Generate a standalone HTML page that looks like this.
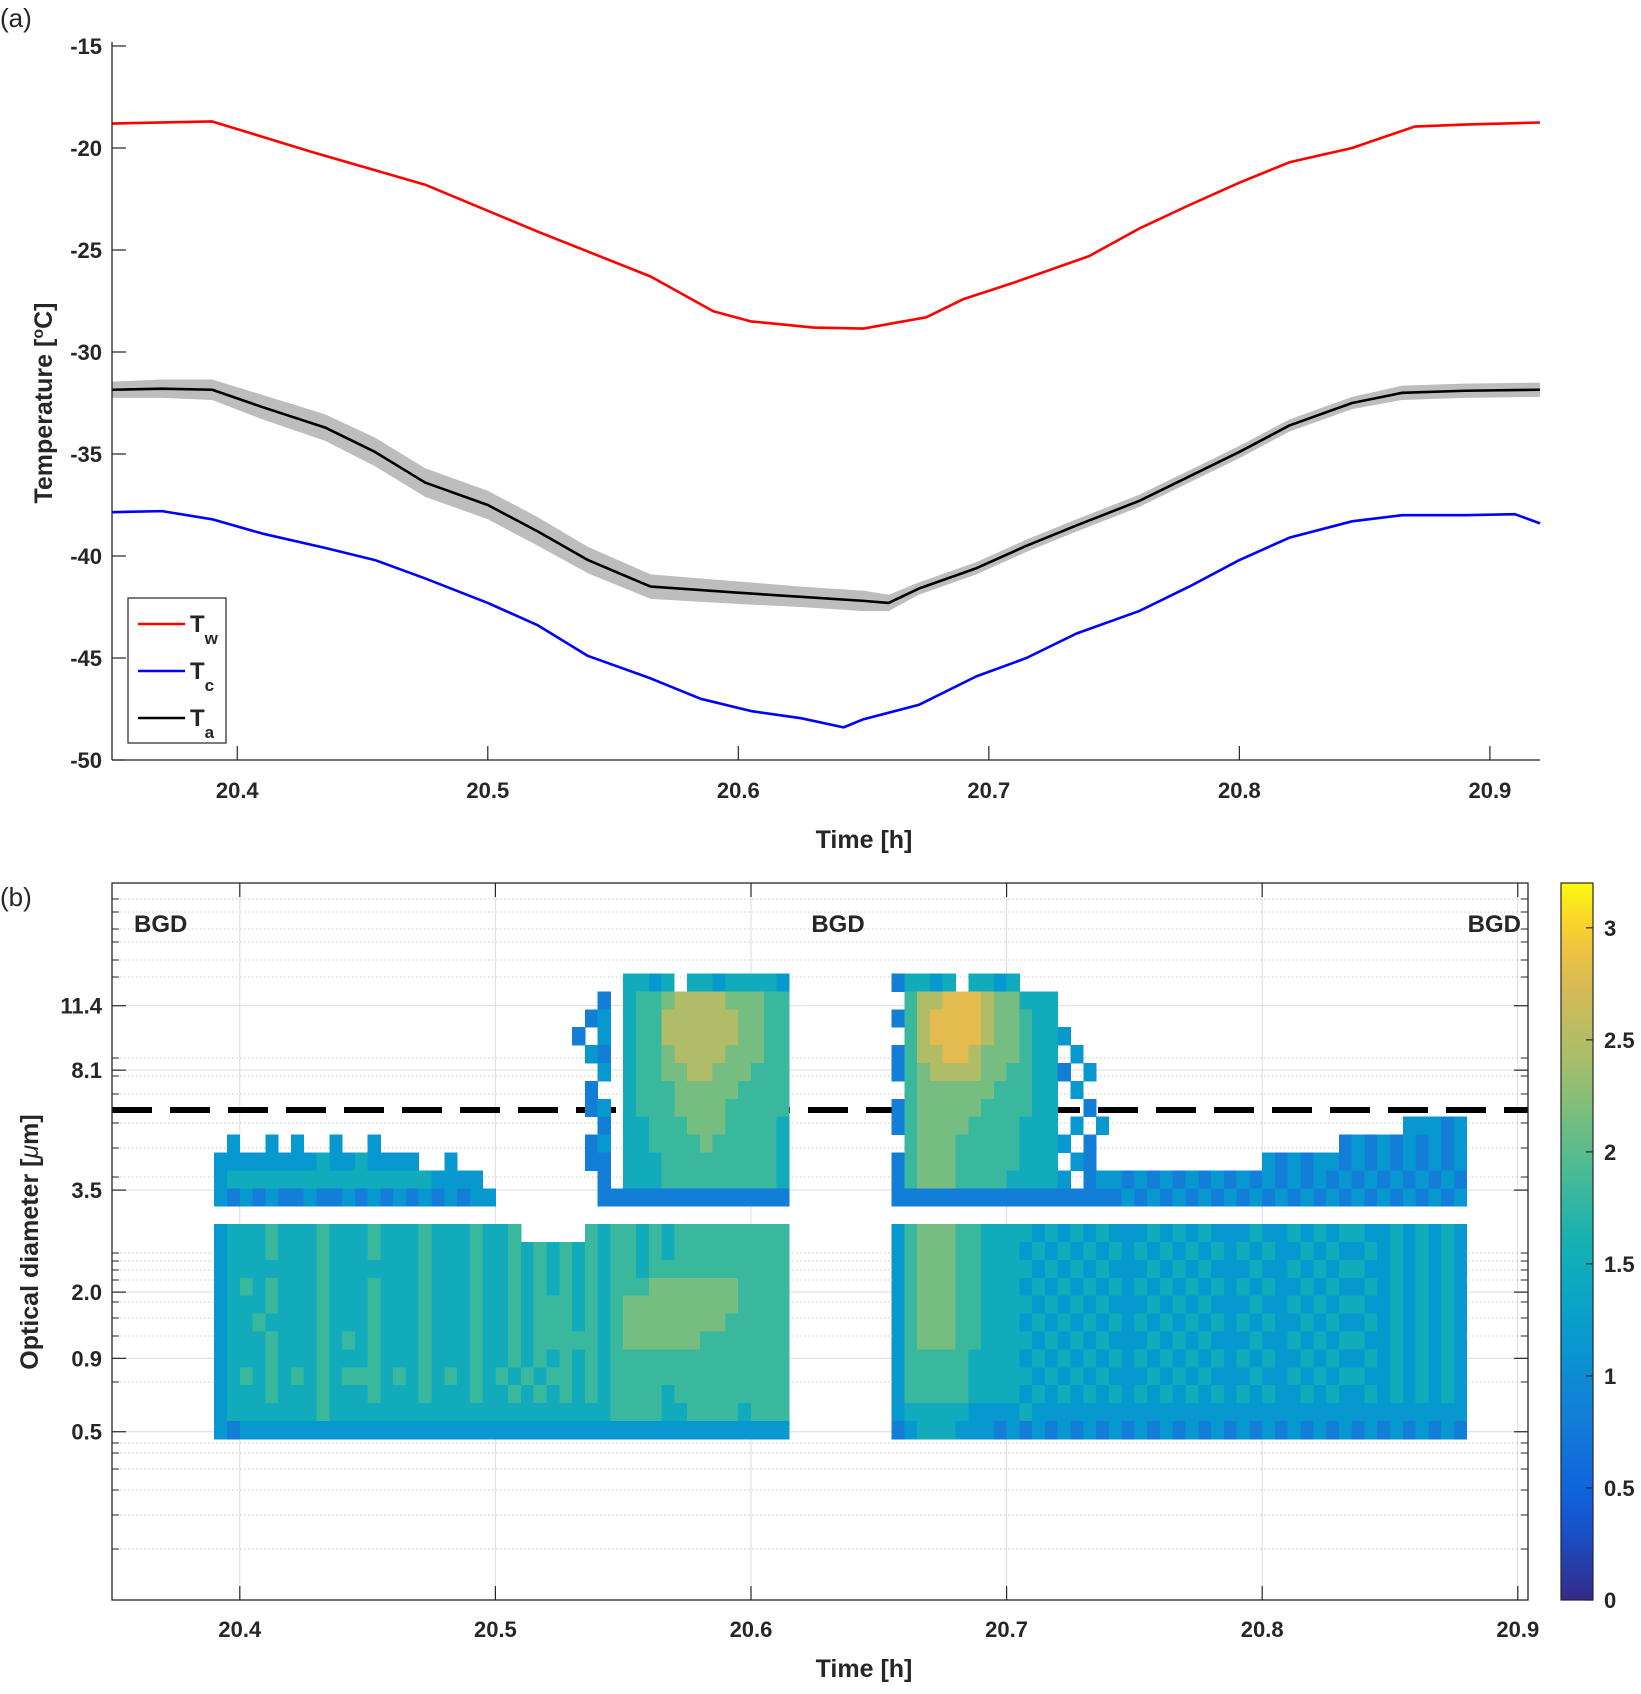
<!DOCTYPE html>
<html><head><meta charset="utf-8"><style>
html,body{margin:0;padding:0;background:#fff;}
svg text{font-family:"Liberation Sans",Arial,sans-serif;fill:#262626;}
.tk{font-size:22px;font-weight:bold;}
.ttl{font-size:25px;font-weight:bold;}
</style></head><body>
<svg id="fig" width="1641" height="1689" viewBox="0 0 1641 1689" xmlns="http://www.w3.org/2000/svg">
<text x="0" y="27" font-size="26">(a)</text>
<text x="0" y="906" font-size="26">(b)</text>
<g id="topg"></g>
<g id="botg"></g>
</svg>
<script>
// ---------- Panel (a) data ----------
const twTime=[20.35,20.39,20.43,20.475,20.52,20.565,20.59,20.605,20.63,20.65,20.675,20.69,20.71,20.74,20.76,20.78,20.80,20.82,20.845,20.87,20.89,20.92];
const twVals=[-18.8,-18.7,-20.2,-21.8,-24.1,-26.3,-28.0,-28.5,-28.8,-28.85,-28.3,-27.4,-26.6,-25.3,-23.95,-22.8,-21.7,-20.7,-20.0,-18.95,-18.85,-18.75];
const tcTime=[20.35,20.37,20.39,20.41,20.435,20.455,20.475,20.50,20.52,20.54,20.565,20.585,20.605,20.625,20.642,20.65,20.672,20.695,20.715,20.735,20.76,20.78,20.80,20.82,20.845,20.865,20.89,20.91,20.92];
const tcVals=[-37.85,-37.8,-38.2,-38.9,-39.6,-40.2,-41.1,-42.3,-43.4,-44.9,-46.0,-47.0,-47.6,-47.95,-48.4,-48.0,-47.3,-45.9,-45.0,-43.8,-42.7,-41.5,-40.2,-39.1,-38.3,-38.0,-38.0,-37.95,-38.4];
const taTime=[20.35,20.37,20.39,20.41,20.435,20.455,20.475,20.50,20.52,20.54,20.565,20.6,20.625,20.65,20.66,20.672,20.695,20.715,20.735,20.76,20.78,20.80,20.82,20.845,20.865,20.89,20.92];
const taVals=[-31.85,-31.8,-31.85,-32.7,-33.7,-34.9,-36.4,-37.5,-38.8,-40.2,-41.5,-41.8,-42.0,-42.2,-42.3,-41.6,-40.6,-39.5,-38.5,-37.3,-36.1,-34.9,-33.6,-32.5,-32.0,-31.9,-31.85];
const taBand=[0.4,0.45,0.5,0.6,0.65,0.7,0.7,0.7,0.7,0.65,0.6,0.55,0.5,0.5,0.4,0.3,0.3,0.3,0.3,0.3,0.3,0.3,0.3,0.3,0.35,0.35,0.35];
const topXTicks=[20.4,20.5,20.6,20.7,20.8,20.9];
const topYTicks=[-15,-20,-25,-30,-35,-40,-45,-50];

// ---------- Panel (b) data ----------
const botXTicks=[20.4,20.5,20.6,20.7,20.8,20.9];
const sizeLabels=["11.4","8.1","3.5","2.0","0.9","0.5"];
const sizeLabelIdx=[33.2,29.6,22.9,17.2,13.5,9.4];
const cbTicks=[0,0.5,1,1.5,2,2.5,3];
const binStart=20.35, binWidth=0.005, rowTop=34;
const E8="........", E6="......";
const heatRows=[
E8+"..............."+"....."+"...."+"...."+"...."+"4434.44344443"+E8+"2"+"4434.4434..."+"...."+"............"+"......"+"....."+"....."+E6,
E8+"..............."+"....."+"...."+"...."+"..2."+"4556777766655"+E8+"."+"577888766444"+"...."+"............"+"......"+"....."+"....."+E6,
E8+"..............."+"....."+"...."+"...."+".23."+"4557777776655"+E8+"2"+"578888766544"+"...."+"............"+"......"+"....."+"....."+E6,
E8+"..............."+"....."+"...."+"...."+"2.3."+"4557777776655"+E8+"."+"578888766544"+"3..."+"............"+"......"+"....."+"....."+E6,
E8+"..............."+"....."+"...."+"...."+".32."+"4556777766655"+E8+"2"+"577887666544"+".3.."+"............"+"......"+"....."+"....."+E6,
E8+"..............."+"....."+"...."+"...."+"..3."+"4556677666555"+E8+"2"+"567777665544"+"2.3."+"............"+"......"+"....."+"....."+E6,
E8+"..............."+"....."+"...."+"...."+".2.."+"4555666665555"+E8+"."+"566666655544"+".3.."+"............"+"......"+"....."+"....."+E6,
E8+"..............."+"....."+"...."+"...."+".23."+"4555666655555"+E8+"2"+"566666555544"+"..2."+"............"+"......"+"....."+"....."+E6,
E8+"..............."+"....."+"...."+"...."+"..2."+"4455566655554"+E8+"2"+"566665555444"+".3.3"+"............"+"......"+"....."+"33323"+E6,
E8+".3..3.3..3..3.."+"....."+"...."+"...."+".23."+"4455556555554"+E8+"."+"566655555444"+"3.2."+"............"+"......"+"23232"+"32323"+E6,
E8+"333333334334333"+"3..3."+"...."+"...."+".22."+"4445555555554"+E8+"2"+"566655555444"+".32."+"............"+"323233"+"23232"+"32323"+E6,
E8+"344444444444444"+"44333"+"3..."+"...."+"..2."+"4445555555554"+E8+"2"+"566655554444"+"3.23"+"323232323232"+"323232"+"32323"+"23232"+E6,
E8+"323232232232323"+"23232"+"33.."+"...."+"..22"+"2222222222222"+E8+"2"+"222222222222"+"2222"+"232323232323"+"232323"+"23232"+"32323"+E6,
"",
E8+"344454445"+"444544454"+"445445..."+"..5455454"+"555555555"+E8+"356665544"+"443434343"+"334343433"+"343343434"+"433434343"+E6,
E8+"344454445"+"444544454"+"445445454"+"545455454"+"555555555"+E8+"356665544"+"434343434"+"343434343"+"434334343"+"343434343"+E6,
E8+"344444445"+"444444454"+"445445454"+"545455455"+"555555555"+E8+"356665544"+"443434343"+"334343433"+"343343434"+"433434343"+E6,
E8+"345454445"+"444544454"+"445445454"+"545455566"+"666665555"+E8+"356665544"+"434343434"+"343434343"+"434334343"+"343434343"+E6,
E8+"344454445"+"444544454"+"445445455"+"545456666"+"666665555"+E8+"356665544"+"443434343"+"334343433"+"343343434"+"433434343"+E6,
E8+"344544445"+"444544454"+"445445455"+"545456666"+"666655555"+E8+"356665544"+"434343434"+"343434343"+"434334343"+"343434343"+E6,
E8+"344454445"+"454544454"+"445445455"+"555456666"+"665555555"+E8+"356665544"+"443434343"+"334343433"+"343343434"+"433434343"+E6,
E8+"344454445"+"444544454"+"445445454"+"545455555"+"555555555"+E8+"355555444"+"434343434"+"343434343"+"434334343"+"343434343"+E6,
E8+"345454545"+"455545454"+"545454545"+"545455555"+"555555555"+E8+"355555444"+"443434343"+"334343433"+"343343434"+"433434343"+E6,
E8+"344454445"+"444544454"+"445445454"+"545455554"+"555555555"+E8+"355555444"+"434343434"+"343434343"+"434334343"+"343434343"+E6,
E8+"344444445"+"444444444"+"444444444"+"444455554"+"455554555"+E8+"344444333"+"343333333"+"333333333"+"333333333"+"333333333"+E6,
E8+"323333333"+"333333333"+"333333333"+"333333333"+"333333333"+E8+"234443332"+"323232323"+"232323232"+"323232323"+"232323232"+E6
];

const NS="http://www.w3.org/2000/svg";
function mk(parent,tag,attrs,txt){const e=document.createElementNS(NS,tag);for(const k in attrs)e.setAttribute(k,attrs[k]);if(txt!==undefined)e.textContent=txt;parent.appendChild(e);return e;}

// ---------- Panel (a) ----------
const topG=document.getElementById('topg');
const TX0=112,TX1=1540,TY0=46,TY1=760;
const xT=t=>TX0+(t-20.35)/0.57*(TX1-TX0);
const yT=v=>TY0+(-15-v)/35*(TY1-TY0);
let bp=[];
for(let i=0;i<taTime.length;i++)bp.push(xT(taTime[i])+","+yT(taVals[i]+taBand[i]));
for(let i=taTime.length-1;i>=0;i--)bp.push(xT(taTime[i])+","+yT(taVals[i]-taBand[i]));
const band=mk(topG,'polygon',{points:bp.join(' '),fill:'#bdbdbd'});


function line(par,ts,vs,color,name){
  const p=ts.map((t,i)=>xT(t)+","+yT(vs[i])).join(' ');
  const el=mk(par,'polyline',{points:p,fill:'none',stroke:color,'stroke-width':2.6,'stroke-linejoin':'round'});
  
  
}
line(topG,twTime,twVals,'#ff0000','tw-line');
line(topG,tcTime,tcVals,'#0000ff','tc-line');
line(topG,taTime,taVals,'#000000','ta-line');
mk(topG,'line',{x1:TX0,y1:TY0-4,x2:TX0,y2:TY1,stroke:'#262626','stroke-width':1.3});
mk(topG,'line',{x1:TX0,y1:TY1,x2:TX1,y2:TY1,stroke:'#262626','stroke-width':1.3});
topYTicks.forEach(v=>{
  mk(topG,'line',{x1:TX0,y1:yT(v),x2:TX0+14,y2:yT(v),stroke:'#262626','stroke-width':1.2});
  const t=mk(topG,'text',{x:TX0-10,y:yT(v)+8,'text-anchor':'end',class:'tk'},String(v));
  
  
});
topXTicks.forEach(v=>{
  mk(topG,'line',{x1:xT(v),y1:TY1,x2:xT(v),y2:TY1-14,stroke:'#262626','stroke-width':1.2});
  const t=mk(topG,'text',{x:xT(v),y:798,'text-anchor':'middle',class:'tk'},v.toFixed(1));
  
  
});
let tt=mk(topG,'text',{x:864,y:848,'text-anchor':'middle',class:'ttl'},'Time [h]');


tt=mk(topG,'text',{transform:'translate(52,403) rotate(-90)','text-anchor':'middle',class:'ttl'});
tt.innerHTML='Temperature [<tspan font-size="16" dy="-9">o</tspan><tspan dy="9">C]</tspan>';


const lg=mk(topG,'g',{});


mk(lg,'rect',{x:128,y:598,width:98,height:145,fill:'#fff',stroke:'#262626','stroke-width':1.2});
[['#ff0000','w',624],['#0000ff','c',671],['#000000','a',718]].forEach(([c,s,y])=>{
  const en=mk(lg,'g',{});
  
  
  mk(en,'line',{x1:138,y1:y,x2:185,y2:y,stroke:c,'stroke-width':2.6});
  const t=mk(en,'text',{x:190,y:y+8,'font-size':24,'font-weight':'bold',fill:'#000'});
  t.innerHTML='T<tspan font-size="17" dy="12">'+s+'</tspan>';
});

// ---------- Panel (b) ----------
const botG=document.getElementById('botg');
const BX0=112,BX1=1528,BY0=883,BY1=1600,ROWH=17.9;
const xB=t=>BX0+(t-20.35)/0.554*(BX1-BX0);
const yB=i=>BY1-i*ROWH;
const stops=[[0,[53,42,135]],[0.125,[15,92,221]],[0.25,[18,125,216]],[0.375,[7,156,207]],[0.5,[21,177,180]],[0.625,[89,189,140]],[0.75,[165,190,107]],[0.875,[225,185,82]],[0.94,[252,206,46]],[1,[249,251,14]]];
function cmap(v){const t=Math.max(0,Math.min(1,v/3.2));for(let i=1;i<stops.length;i++){if(t<=stops[i][0]){const a=stops[i-1],b=stops[i],f=(t-a[0])/(b[0]-a[0]);return 'rgb('+a[1].map((c,k)=>Math.round(c+(b[1][k]-c)*f)).join(',')+')';}}return 'rgb(249,251,14)';}
const minorY=[899,912,929,942,960,977,1058,1076,1094,1123,1148,1177,1253,1261,1270,1280,1302,1318,1336,1382,1443,1453,1469,1490,1515,1549];
minorY.forEach(y=>{mk(botG,'line',{x1:BX0,y1:y,x2:BX1,y2:y,stroke:'#c8c8c8','stroke-width':1,'stroke-dasharray':'1.5,2.5'});
  mk(botG,'line',{x1:BX0,y1:y,x2:BX0+7,y2:y,stroke:'#262626','stroke-width':1});
  mk(botG,'line',{x1:BX1,y1:y,x2:BX1-7,y2:y,stroke:'#262626','stroke-width':1});});
sizeLabelIdx.forEach(i=>mk(botG,'line',{x1:BX0,y1:yB(i),x2:BX1,y2:yB(i),stroke:'#dcdcdc','stroke-width':1}));
botXTicks.forEach(v=>mk(botG,'line',{x1:xB(v),y1:BY0,x2:xB(v),y2:BY1,stroke:'#dcdcdc','stroke-width':1}));
const dl=mk(botG,'line',{x1:BX0,y1:1110,x2:BX1,y2:1110,stroke:'#000','stroke-width':6,'stroke-dasharray':'40,18'});


const hm=mk(botG,'g',{'shape-rendering':'crispEdges'});


const cw=xB(binStart+binWidth)-xB(binStart);
heatRows.forEach((row,r)=>{
  const idx=rowTop-r;
  for(let c=0;c<row.length;c++){
    const ch=row[c]; if(ch==='.')continue;
    const v=parseInt(ch)/3+0.15;
    const x=xB(binStart+c*binWidth);
    mk(hm,'rect',{x:x.toFixed(2),y:yB(idx+1).toFixed(2),width:(cw+0.4).toFixed(2),height:(ROWH+0.4).toFixed(2),fill:cmap(v)});
  }
});
mk(botG,'rect',{x:BX0,y:BY0,width:BX1-BX0,height:BY1-BY0,fill:'none',stroke:'#262626','stroke-width':1.3});
botXTicks.forEach(v=>{
  mk(botG,'line',{x1:xB(v),y1:BY1,x2:xB(v),y2:BY1-14,stroke:'#262626','stroke-width':1.2});
  mk(botG,'line',{x1:xB(v),y1:BY0,x2:xB(v),y2:BY0+14,stroke:'#262626','stroke-width':1.2});
  const t=mk(botG,'text',{x:xB(v),y:1637,'text-anchor':'middle',class:'tk'},v.toFixed(1));
  
  
});
sizeLabels.forEach((s,k)=>{
  const y=yB(sizeLabelIdx[k]);
  mk(botG,'line',{x1:BX0,y1:y,x2:BX0+14,y2:y,stroke:'#262626','stroke-width':1.2});
  mk(botG,'line',{x1:BX1,y1:y,x2:BX1-14,y2:y,stroke:'#262626','stroke-width':1.2});
  const t=mk(botG,'text',{x:BX0-10,y:y+8,'text-anchor':'end',class:'tk'},s);
  
  
});
[['BGD',134,'start'],['BGD',838,'middle'],['BGD',1521,'end']].forEach(([s,x,a])=>{
  const t=mk(botG,'text',{x:x,y:932,'text-anchor':a,'font-size':24,'font-weight':'bold',fill:'#000'},s);
  
  
});
tt=mk(botG,'text',{x:864,y:1677,'text-anchor':'middle',class:'ttl'},'Time [h]');


tt=mk(botG,'text',{transform:'translate(38,1242) rotate(-90)','text-anchor':'middle',class:'ttl'});
tt.innerHTML='Optical diameter [<tspan font-style="italic" font-weight="normal">μ</tspan>m]';


const CB0=1561,CB1=1593,cbTop=883,cbBot=1600,cbMax=3.2;
const yC=v=>cbBot-v/cbMax*(cbBot-cbTop);
const defs=mk(document.getElementById('fig'),'defs',{});
const gr=mk(defs,'linearGradient',{id:'cbg',x1:0,y1:1,x2:0,y2:0});
for(let i=0;i<=20;i++){mk(gr,'stop',{offset:i/20,'stop-color':cmap(i/20*cbMax)});}
const cb=mk(botG,'g',{});


mk(cb,'rect',{x:CB0,y:cbTop,width:CB1-CB0,height:cbBot-cbTop,fill:'url(#cbg)',stroke:'#262626','stroke-width':1.2});
cbTicks.forEach(v=>{
  mk(cb,'line',{x1:CB1,y1:yC(v),x2:CB1-7,y2:yC(v),stroke:'#262626','stroke-width':1.2});
  const t=mk(cb,'text',{x:1604,y:yC(v)+8,class:'tk'},String(v));
  
  
});
</script>
</body></html>
